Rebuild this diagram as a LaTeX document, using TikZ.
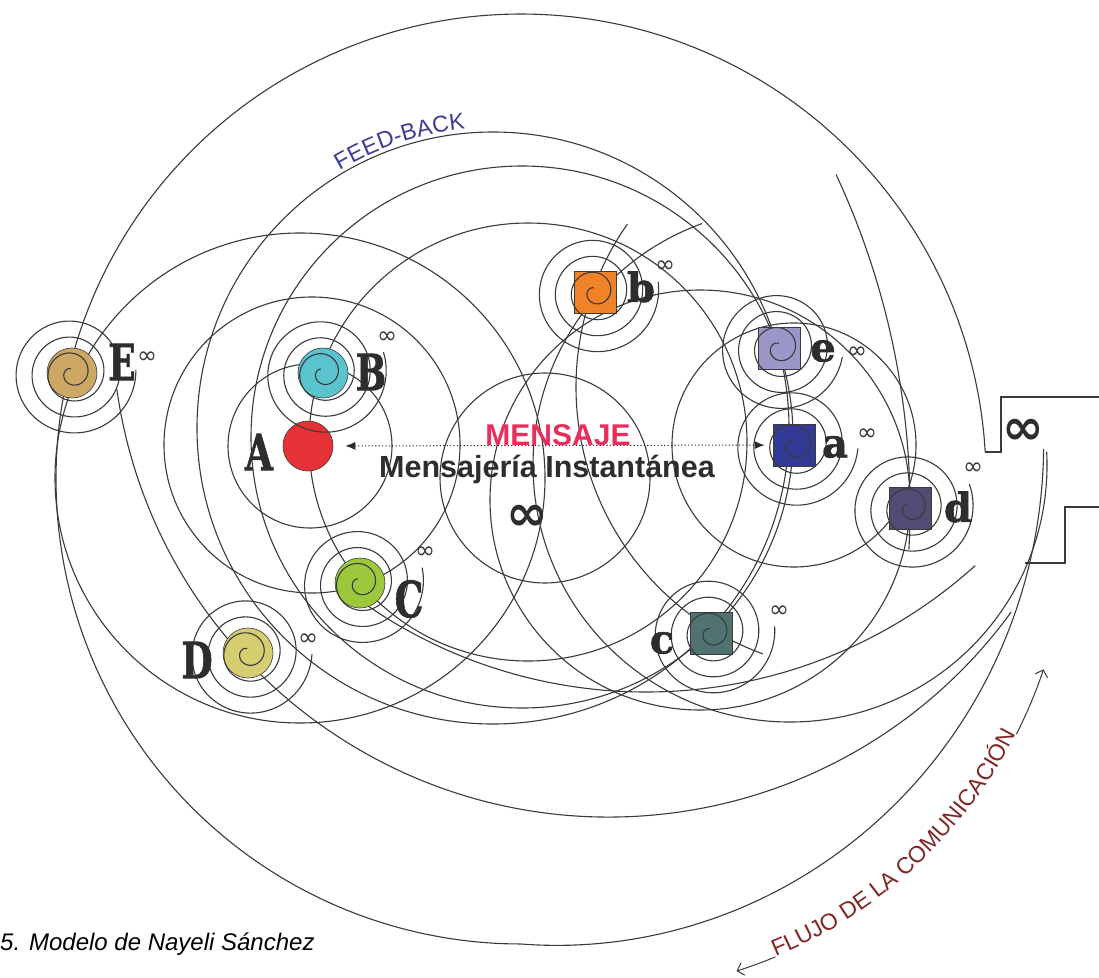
\documentclass[tikz,border=0pt]{standalone}
\usepackage{fontspec}
\usetikzlibrary{positioning,arrows.meta,decorations.text}
\newfontfamily\arialfont{Liberation Sans}
\newfontfamily\slabfont{DejaVu Serif}[BoldFeatures={FakeBold=1.5}]
\newfontfamily\symbfont{DejaVu Sans}
\definecolor{linegray}{RGB}{58,58,58}
\definecolor{letterdark}{RGB}{45,45,45}
\definecolor{colE}{RGB}{205,168,100}
\definecolor{colB}{RGB}{90,196,206}
\definecolor{colA}{RGB}{230,50,55}
\definecolor{colC}{RGB}{157,200,60}
\definecolor{colD}{RGB}{214,204,112}
\definecolor{colb}{RGB}{240,130,40}
\definecolor{cole}{RGB}{155,150,200}
\definecolor{cola}{RGB}{50,58,150}
\definecolor{cold}{RGB}{80,76,115}
\definecolor{colc}{RGB}{80,115,114}
\definecolor{mensaje}{RGB}{234,46,92}
\definecolor{feedblue}{RGB}{60,60,150}
\definecolor{flowred}{RGB}{130,38,38}
% spiral round a node: #1 node, #2 angle where it ends
\newcommand{\swirl}[2]{%
  \begin{scope}[shift={(#1)}]
    \draw[orbit] plot[domain=100:1440, samples=200, smooth, variable=\u] ({#2+1440-\u}:{\u/22.5});
  \end{scope}}

\begin{document}
\begin{tikzpicture}[x=1pt, y=-1pt]

\tikzstyle{orbit}=[draw=linegray, line width=1.1pt]
\tikzstyle{sender}=[circle, draw=linegray, line width=0.6pt, minimum size=50pt, inner sep=0pt]
\tikzstyle{receiver}=[rectangle, draw=linegray, line width=0.6pt, minimum size=42pt, inner sep=0pt]
\tikzstyle{capletter}=[font=\slabfont\bfseries\fontsize{50}{50}\selectfont, text=letterdark, xscale=0.72, inner sep=0pt]
\tikzstyle{smallletter}=[font=\slabfont\bfseries\fontsize{40}{40}\selectfont, text=letterdark, inner sep=0pt]
\tikzstyle{inf}=[font=\symbfont\fontsize{24}{24}\selectfont, text=linegray, inner sep=0pt]
\tikzstyle{biginf}=[font=\symbfont\bfseries\fontsize{50}{50}\selectfont, text=letterdark, inner sep=0pt]
\tikzstyle{message}=[{Latex[length=10pt,width=8pt]}-{Latex[length=10pt,width=8pt]}, draw=letterdark, line width=1pt, dash pattern=on 1.2pt off 2.2pt, shorten <=12pt, shorten >=8pt]
\tikzstyle{flowarrow}=[draw=linegray, line width=1pt, -{Straight Barb[length=6pt,width=13pt]}]

\fill[white] (0,0) rectangle (1099,977);
\useasboundingbox (0,0) rectangle (1099,977);

% outer loop, opening out towards the right
\coordinate (outer) at (521,479);
\begin{scope}[shift={(outer)}]
  \draw[orbit] plot[domain=3.3:363.3, samples=240, smooth, variable=\t] ({-\t}:{465+0.627*max(0,\t-270)});
\end{scope}

% orbits
\foreach \cx/\cy/\r in {493/428/296, 545/478/105, 310/446/82, 312/445/148, 300/478/245,
  528/442/219, 522/437/271, 794/445/122, 700/500/210}
  \draw[orbit] (\cx,\cy) circle[radius=\r];
\draw[orbit] (790,465) ++(-3:257) arc[start angle=-3, end angle=250, radius=257];
\draw[orbit] (860,387) ++(110:284) arc[start angle=110, end angle=215, radius=284];
\draw[orbit] (609,320) ++(172:497) arc[start angle=172, end angle=36, radius=497];
\draw[orbit] (646,200) ++(127:492) arc[start angle=127, end angle=48, radius=492];
\draw[orbit] (121,508) ++(-25:789) arc[start angle=-25, end angle=3, radius=789];

% way out on the right
\coordinate (exit1) at (985,452);
\coordinate (exit2) at (1025,563);
\draw[orbit] (exit1) -- (1001,452) -- (1001,397) -- (1099,397);
\draw[orbit] (exit2) -- (1065,563) -- (1065,507) -- (1099,507);

% senders and receivers
\node[sender, fill=colE] (E) at (72,373) {};
\node[sender, fill=colB] (B) at (323,373) {};
\node[sender, fill=colA] (A) at (308,446) {};
\node[sender, fill=colC] (C) at (360,583) {};
\node[sender, fill=colD] (D) at (248,653) {};
\node[receiver, fill=colb] (b) at (595,292) {};
\node[receiver, fill=cole] (e) at (779,348) {};
\node[receiver, fill=cola] (a) at (794,445) {};
\node[receiver, fill=cold] (d) at (910,508) {};
\node[receiver, fill=colc] (c) at (711,633) {};

\swirl{E}{-3}
\swirl{B}{-19}
\swirl{C}{-14}
\swirl{D}{1}
\swirl{b}{-9}
\swirl{e}{8}
\swirl{a}{3}
\swirl{d}{-22}
\swirl{c}{-6}

\node[capletter] (labE) at (122,362) {E};
\node[capletter] (labB) at (371,372) {B};
\node[capletter] (labA) at (259,452) {A};
\node[capletter] (labC) at (409,599) {C};
\node[capletter] (labD) at (197,660) {D};
\node[smallletter] (labb) at (641,287) {b};
\node[smallletter] (labe) at (823,351) {e};
\node[smallletter] (laba) at (835,447) {a};
\node[smallletter] (labd) at (958,507) {d};
\node[smallletter] (labc) at (662,643) {c};

\node[inf] (infE) at (147,358) {∞};
\node[inf] (infB) at (387,338) {∞};
\node[inf] (infC) at (425,553) {∞};
\node[inf] (infD) at (308,640) {∞};
\node[inf] (infb) at (665,267) {∞};
\node[inf] (infe) at (857,353) {∞};
\node[inf] (infa) at (867,435) {∞};
\node[inf] (infd) at (973,469) {∞};
\node[inf] (infc) at (779,612) {∞};
\node[biginf] (infmid) at (527,518) {∞};
\node[biginf] (infout) at (1023,432) {∞};

% message
\draw[message] (A) -- (a);
\node[font=\arialfont\bfseries\fontsize{30}{30}\selectfont, text=mensaje, anchor=base, inner sep=0pt] (msg) at (558,445) {MENSAJE};
\node[font=\arialfont\bfseries\fontsize{30.5}{30}\selectfont, text=letterdark, anchor=base, inner sep=0pt] (im) at (547,477) {Mensajería Instantánea};

% feed-back
\coordinate (fbc) at (493,428);
\path[decorate, decoration={text along path, text align=center, raise=4pt,
  text={|\arialfont\fontsize{23}{23}\selectfont\color{feedblue}|FEED-BACK}}]
  (fbc) ++(-123:296) arc[start angle=-123, end angle=-93, radius=296];

% flow
\coordinate (flow) at (594,519);
\draw[flowarrow] (flow) ++(67.5:474) arc[start angle=67.5, end angle=72.5, radius=474];
\draw[flowarrow] (flow) ++(27:474) arc[start angle=27, end angle=18.5, radius=474];
\path[decorate, decoration={text along path, text align=center,
  text={|\arialfont\fontsize{23}{23}\selectfont\color{flowred}|FLUJO DE LA COMUNICACIÓN}}]
  (flow) ++(67.5:474) arc[start angle=67.5, end angle=27, radius=474];

\node[anchor=base west, font=\arialfont\itshape\fontsize{24}{24}\selectfont, inner sep=0pt] (caption) at (0,950) {5. Modelo de Nayeli Sánchez};

\end{tikzpicture}
\end{document}
